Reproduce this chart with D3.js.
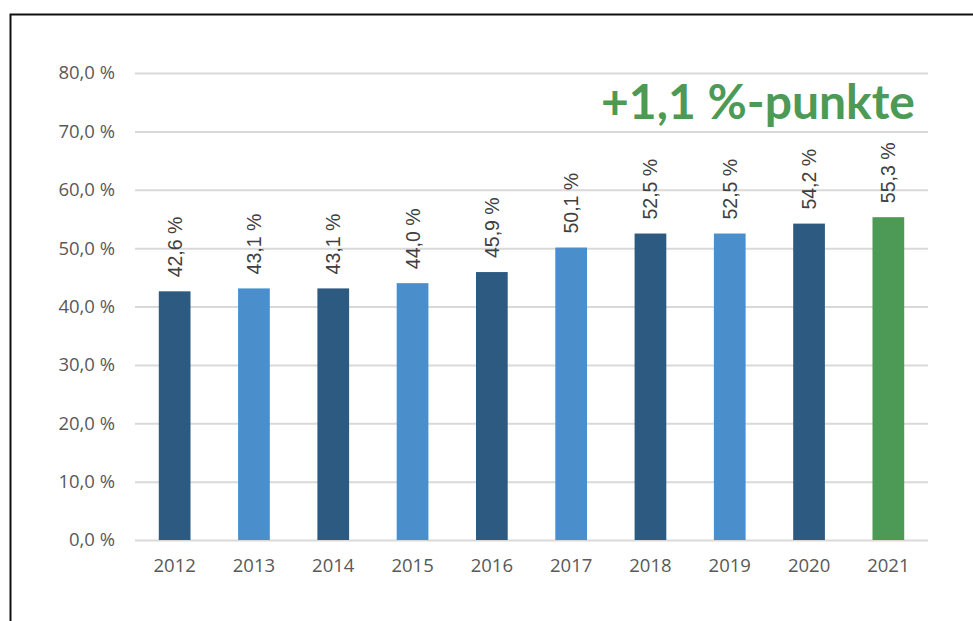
<!DOCTYPE html>
<html>
<head>
<meta charset="utf-8">
<script src="https://cdn.jsdelivr.net/npm/d3@7"></script>
<style>
  body { margin: 0; background: #fff; }
  svg { display: block; }
</style>
</head>
<body>
<div id="chart"></div>
<script>
// chart data
var years = ["2012", "2013", "2014", "2015", "2016", "2017", "2018", "2019", "2020", "2021"];
var values = [42.6, 43.1, 43.1, 44.0, 45.9, 50.1, 52.5, 52.5, 54.2, 55.3];
var barColors = ["#2d5a80", "#4a8fcc", "#2d5a80", "#4a8fcc", "#2d5a80", "#4a8fcc", "#2d5a80", "#4a8fcc", "#2d5a80", "#4c9a55"];
var yTicks = [0, 10, 20, 30, 40, 50, 60, 70, 80];
var headline = "+1,1 %-punkte";

var width = 973, height = 621;
var margin = {left: 135, right: 45, top: 73, bottom: 81};

var svg = d3.select("#chart").append("svg")
  .attr("width", width)
  .attr("height", height);

// frame (only top + left edge visible)
svg.append("path")
  .attr("d", "M10.5," + height + "V14.5H" + width)
  .attr("fill", "none")
  .attr("stroke", "#111")
  .attr("stroke-width", 2);

var x = d3.scaleBand()
  .domain(years)
  .range([margin.left, width - margin.right])
  .paddingInner(0.6)
  .paddingOuter(0.3);

var y = d3.scaleLinear()
  .domain([0, 80])
  .range([height - margin.bottom, margin.top]);

var fmt = function(v) { return v.toFixed(1).replace(".", ",") + " %"; };

// gridlines + y labels
var yAxis = d3.axisLeft(y)
  .tickValues(yTicks)
  .tickSize(-(width - margin.left - margin.right))
  .tickPadding(20)
  .tickFormat(fmt);

var gy = svg.append("g")
  .attr("transform", "translate(" + margin.left + ",0)")
  .call(yAxis);
gy.select(".domain").remove();
gy.selectAll(".tick line").attr("stroke", "#d9d9d9").attr("stroke-width", 2);
gy.selectAll(".tick text")
  .attr("fill", "#595959")
  .style("font-family", "'Open Sans', sans-serif")
  .style("font-size", "18.5px");

// x labels
var gx = svg.append("g")
  .attr("transform", "translate(0," + y(0) + ")")
  .call(d3.axisBottom(x).tickSize(0).tickPadding(19));
gx.select(".domain").remove();
gx.selectAll(".tick text")
  .attr("fill", "#595959")
  .style("font-family", "'Open Sans', sans-serif")
  .style("font-size", "18.5px");

// bars
svg.selectAll(".bar")
  .data(values)
  .enter().append("rect")
    .attr("class", "bar")
    .attr("x", function(d, i) { return x(years[i]); })
    .attr("y", function(d) { return y(d); })
    .attr("width", x.bandwidth())
    .attr("height", function(d) { return y(0) - y(d); })
    .attr("fill", function(d, i) { return barColors[i]; });

// value labels, rotated
svg.selectAll(".val")
  .data(values)
  .enter().append("text")
    .attr("class", "val")
    .attr("transform", function(d, i) {
      return "translate(" + (x(years[i]) + x.bandwidth() / 2 + 7) + "," + (y(d) - 14) + ") rotate(-90)";
    })
    .attr("fill", "#404040")
    .style("font-family", "'Liberation Sans', Arial, sans-serif")
    .style("font-size", "19.5px")
    .text(fmt);

// headline
svg.append("text")
  .attr("x", 915)
  .attr("y", 119)
  .attr("text-anchor", "end")
  .attr("fill", "#4c9a55")
  .style("font-family", "Lato, sans-serif")
  .style("font-weight", "bold")
  .style("font-size", "48px")
  .text(headline);
</script>
</body>
</html>
